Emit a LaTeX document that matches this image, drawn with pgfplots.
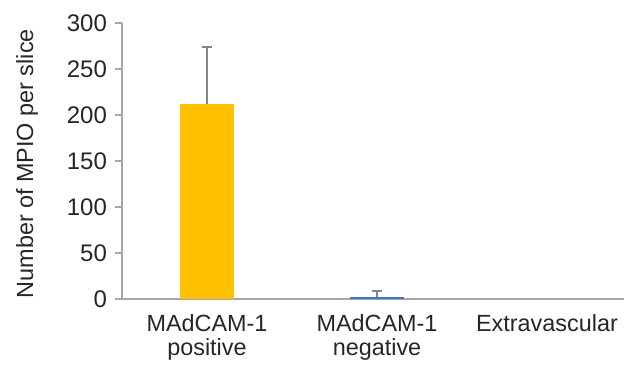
\documentclass[border=0pt]{standalone}
\usepackage{pgfplots}
\pgfplotsset{compat=1.18}
\usepackage{fontspec}
\setmainfont{Liberation Sans}
\definecolor{barorange}{HTML}{FFC000}
\definecolor{barblue}{HTML}{4472C4}
\definecolor{axisgray}{HTML}{A6A6A6}
\definecolor{txt}{HTML}{262626}
\begin{document}
\begin{tikzpicture}
\path[use as bounding box] (-61pt,-34.5pt) rectangle (251pt,149.5pt);
\begin{axis}[
  at={(0,0)}, anchor=south west,
  scale only axis, width=251pt, height=138pt,
  xmin=-0.5, xmax=2.453, ymin=0, ymax=300,
  axis x line*=bottom, axis y line*=left,
  axis line style={axisgray, line width=0.6pt, -},
  xtick={0,1,2},
  xticklabels={MAdCAM-1\\positive, MAdCAM-1\\negative, Extravascular},
  xticklabel style={align=center, font=\fontsize{11.7pt}{12pt}\selectfont, text=txt, yshift=-4pt},
  ytick={0,50,...,300},
  yticklabel style={font=\fontsize{12pt}{12pt}\selectfont, text=txt, xshift=-4pt},
  /pgf/number format/assume math mode=true,
  tick align=outside,
  major tick length=0pt,
  ytick style={axisgray, line width=0.6pt},
  extra y ticks={0,50,...,300},
  extra y tick labels={},
  extra y tick style={major tick length=3.5pt, tick align=outside, axisgray, line width=0.6pt},
  ylabel={Number of MPIO per slice},
  every axis y label/.style={at={(axis description cs:-0.189,0.49)}, rotate=90, anchor=center,
    font=\fontsize{11.7pt}{12pt}\selectfont, text=txt},
  ybar, bar width=27pt,
  clip=false,
]
\addplot[bar shift=0pt, fill=barorange, draw=none,
  error bars/.cd, y dir=plus, y explicit,
  error bar style={axisgray!80!black, line width=0.8pt},
  error mark options={rotate=90, mark size=2.5pt, axisgray!80!black, line width=0.8pt}]
  coordinates {(0,212) +- (0,62)};
\addplot[bar shift=0pt, fill=barblue, draw=none,
  error bars/.cd, y dir=plus, y explicit,
  error bar style={axisgray!80!black, line width=0.8pt},
  error mark options={rotate=90, mark size=2.5pt, axisgray!80!black, line width=0.8pt}]
  coordinates {(1,2.5) +- (0,6)};
\end{axis}
\end{tikzpicture}
\end{document}
